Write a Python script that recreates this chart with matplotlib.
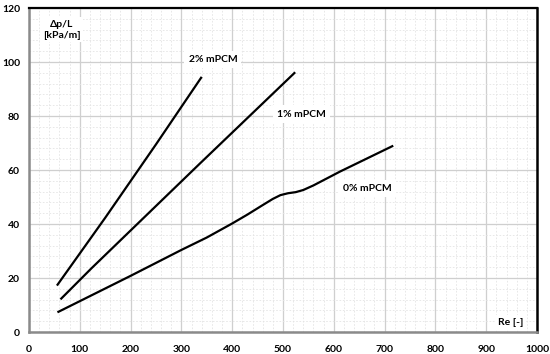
import numpy as np
import matplotlib.pyplot as plt
from matplotlib.ticker import MultipleLocator

plt.rcParams['font.family'] = ['Lato', 'DejaVu Sans']

# values
re_2 = [55, 150, 250, 340]
dp_2 = [17.2, 42.3, 69.5, 94.5]

re_1 = [62, 123, 337, 524]
dp_1 = [12.1, 23.6, 62.5, 96.2]

re_0 = [56, 200, 300, 350, 400, 430, 460, 480, 495, 510, 525, 540, 560, 612, 717]
dp_0 = [7.3, 20.8, 30.4, 35.0, 40.2, 43.5, 47.0, 49.3, 50.7, 51.4, 51.8, 52.6, 54.3, 59.4, 69.0]

labels = ['2% mPCM', '1% mPCM', '0% mPCM']
label_pos = [(362, 101), (537, 80.7), (667, 53.2)]

fig = plt.figure(figsize=(5.5, 3.54), dpi=100)
ax = fig.add_axes([0.0527, 0.0621, 0.9237, 0.9153])

for x, y in [(re_2, dp_2), (re_1, dp_1), (re_0, dp_0)]:
    ax.plot(x, y, color='black', lw=1.6, solid_capstyle='butt',
            solid_joinstyle='round', zorder=3)

for txt, (x, y) in zip(labels, label_pos):
    ax.text(x, y, txt, ha='center', va='center', fontsize=7.5, fontweight='bold',
            bbox=dict(facecolor='white', edgecolor='none', pad=3), zorder=4)

ax.text(948, 3.6, 'Re [-]', ha='center', va='center', fontsize=7.5, fontweight='bold',
        bbox=dict(facecolor='white', edgecolor='none', pad=2), zorder=4)
ax.text(64, 112, 'Δp/L\n[kPa/m]', ha='center', va='center', fontsize=7.5,
        fontweight='bold', linespacing=1.3,
        bbox=dict(facecolor='white', edgecolor='none', pad=2), zorder=4)

ax.set_xlim(0, 1000)
ax.set_ylim(0, 120)
ax.xaxis.set_major_locator(MultipleLocator(100))
ax.yaxis.set_major_locator(MultipleLocator(20))
ax.xaxis.set_minor_locator(MultipleLocator(20))
ax.yaxis.set_minor_locator(MultipleLocator(4))
ax.grid(which='major', color='#cfcfcf', lw=0.9, zorder=1)
ax.grid(which='minor', color='#e4e4e4', lw=0.6, ls=(0, (2, 2)), zorder=0)
ax.set_axisbelow(True)

ax.tick_params(which='both', length=0)
ax.tick_params(axis='x', pad=9, labelsize=7.5)
ax.tick_params(axis='y', pad=6.5, labelsize=7.5)
for lab in ax.get_xticklabels() + ax.get_yticklabels():
    lab.set_fontweight('bold')

ax.spines['left'].set_color('#8a8a8a')
ax.spines['bottom'].set_color('#8a8a8a')
ax.spines['left'].set_linewidth(1.8)
ax.spines['bottom'].set_linewidth(1.8)
ax.spines['top'].set_linewidth(1.6)
ax.spines['right'].set_linewidth(1.8)

fig.savefig('out.png', dpi=100)
